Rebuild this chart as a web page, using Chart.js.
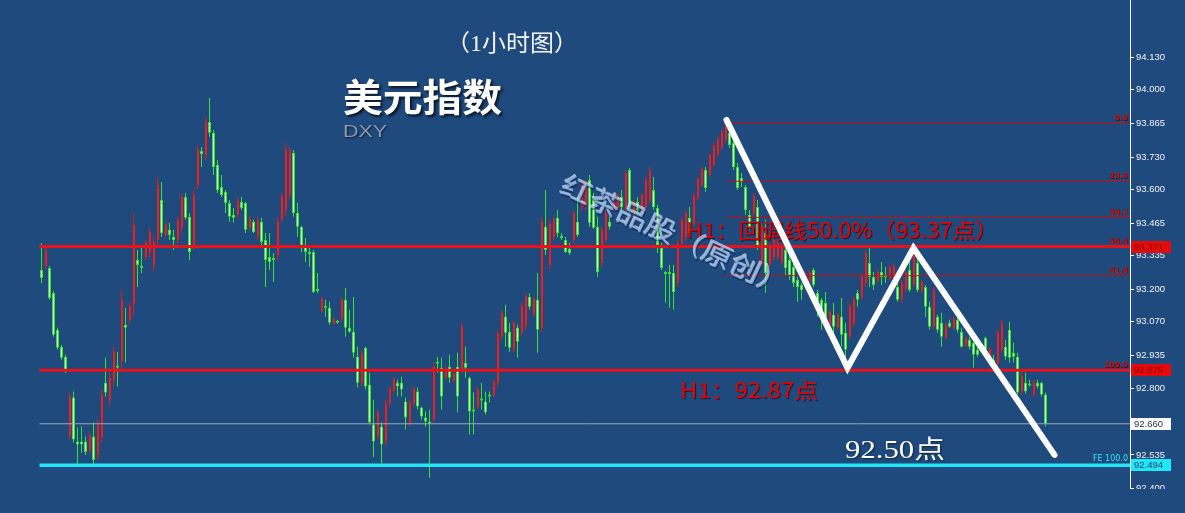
<!DOCTYPE html>
<html><head><meta charset="utf-8">
<script src="https://cdn.jsdelivr.net/npm/chart.js@4/dist/chart.umd.min.js"></script>
<style>html,body{margin:0;padding:0;background:#1f4a7e;overflow:hidden}canvas{display:block}</style>
</head><body><canvas id="c" width="1185" height="513"></canvas>
<script>
// ---- candle data (DXY, 1 hour) ----
const opens = [
93.277,93.293,93.285,93.185,93.037,92.969,92.929,92.613,92.765,92.589,
92.589,92.589,92.555,92.609,92.535,92.605,92.825,92.757,92.837,92.893,
92.909,93.057,93.077,93.137,93.317,93.293,93.329,93.349,93.297,93.397,
93.558,93.417,93.438,93.409,93.397,93.446,93.570,93.490,93.377,93.618,
93.754,93.738,93.871,93.827,93.698,93.610,93.590,93.546,93.498,93.498,
93.550,93.546,93.446,93.470,93.413,93.470,93.397,93.329,93.325,93.337,
93.478,93.518,93.578,93.746,93.506,93.450,93.377,93.345,93.349,93.197,
93.113,93.129,93.125,93.061,93.069,93.081,93.157,93.045,93.029,92.929,
92.825,92.965,92.817,92.657,92.609,92.649,92.589,92.741,92.793,92.825,
92.825,92.749,92.660,92.741,92.789,92.725,92.685,92.669,92.677,92.905,
92.885,92.845,92.889,92.833,92.889,92.881,92.905,92.845,92.717,92.729,
92.761,92.749,92.773,92.773,92.825,93.009,93.089,93.029,92.957,93.045,
93.025,93.053,93.169,93.101,93.157,93.045,93.450,93.297,93.409,93.486,
93.413,93.397,93.361,93.397,93.470,93.530,93.530,93.638,93.558,93.450,
93.305,93.397,93.470,93.526,93.526,93.570,93.530,93.678,93.498,93.550,
93.514,93.530,93.558,93.598,93.526,93.365,93.269,93.269,93.265,93.225,
93.381,93.409,93.486,93.462,93.566,93.618,93.678,93.658,93.698,93.738,
93.766,93.799,93.827,93.786,93.690,93.646,93.610,93.498,93.502,93.530,
93.305,93.425,93.301,93.329,93.329,93.309,93.357,93.317,93.289,93.237,
93.217,93.205,93.233,93.277,93.185,93.157,93.145,93.057,93.097,93.045,
93.089,93.025,93.009,93.061,93.185,93.169,93.225,93.305,93.249,93.233,
93.269,93.253,93.245,93.221,93.209,93.157,93.201,93.277,93.221,93.305,
93.193,93.209,93.129,93.049,93.089,93.065,93.005,93.065,93.045,93.077,
93.029,92.973,92.997,92.985,92.957,92.949,93.005,92.913,92.917,92.901,
92.957,92.969,93.037,92.945,92.929,92.789,92.825,92.817,92.777,92.825,
92.825,92.777];
const highs = [
93.385,93.377,93.293,93.193,93.045,92.977,92.937,92.785,92.789,92.645,
92.649,92.609,92.625,92.665,92.677,92.797,92.925,92.865,92.969,92.949,
93.197,93.125,93.145,93.506,93.357,93.365,93.397,93.450,93.409,93.650,
93.630,93.466,93.466,93.438,93.490,93.586,93.586,93.506,93.598,93.778,
93.770,93.891,93.967,93.839,93.718,93.658,93.598,93.558,93.526,93.566,
93.570,93.550,93.490,93.478,93.490,93.486,93.425,93.425,93.345,93.490,
93.586,93.786,93.770,93.758,93.546,93.454,93.405,93.365,93.357,93.265,
93.169,93.157,93.149,93.085,93.077,93.169,93.205,93.117,93.169,92.969,
92.957,92.969,92.865,92.757,92.717,92.665,92.757,92.809,92.849,92.837,
92.849,92.765,92.757,92.809,92.805,92.729,92.709,92.717,92.905,92.929,
92.925,92.889,92.937,92.865,92.945,93.065,92.969,92.849,92.785,92.809,
92.825,92.789,92.789,92.837,93.037,93.117,93.137,93.065,93.077,93.057,
93.145,93.185,93.185,93.169,93.265,93.490,93.598,93.478,93.490,93.518,
93.425,93.409,93.385,93.518,93.570,93.626,93.638,93.658,93.586,93.490,
93.450,93.518,93.490,93.570,93.586,93.598,93.678,93.686,93.558,93.570,
93.586,93.650,93.690,93.650,93.538,93.385,93.273,93.297,93.297,93.397,
93.490,93.518,93.530,93.586,93.650,93.690,93.690,93.746,93.786,93.811,
93.839,93.867,93.859,93.799,93.706,93.666,93.618,93.518,93.586,93.558,
93.466,93.478,93.385,93.409,93.397,93.385,93.377,93.337,93.329,93.249,
93.225,93.265,93.277,93.285,93.197,93.165,93.189,93.117,93.145,93.105,
93.165,93.065,93.145,93.169,93.197,93.265,93.357,93.365,93.269,93.277,
93.309,93.289,93.297,93.305,93.229,93.237,93.277,93.317,93.345,93.333,
93.237,93.217,93.149,93.209,93.097,93.105,93.065,93.077,93.089,93.089,
93.045,93.009,93.009,92.989,92.969,92.969,93.009,92.969,92.937,93.037,
93.077,92.997,93.069,92.985,92.945,92.865,92.865,92.837,92.837,92.837,
92.829,92.785];
const lows = [
93.225,93.277,93.157,93.009,92.957,92.917,92.865,92.597,92.585,92.494,
92.543,92.535,92.543,92.494,92.515,92.585,92.769,92.728,92.809,92.809,
92.877,92.905,93.065,93.089,93.209,93.265,93.317,93.329,93.269,93.369,
93.409,93.409,93.397,93.357,93.385,93.425,93.478,93.317,93.357,93.598,
93.690,93.718,93.811,93.658,93.586,93.570,93.506,93.470,93.466,93.486,
93.518,93.425,93.438,93.425,93.397,93.369,93.209,93.277,93.229,93.317,
93.466,93.490,93.558,93.490,93.409,93.349,93.309,93.289,93.185,93.185,
93.105,93.089,93.057,93.057,93.061,93.069,93.009,93.025,92.925,92.805,
92.809,92.797,92.657,92.527,92.597,92.503,92.569,92.729,92.785,92.769,
92.769,92.637,92.649,92.729,92.717,92.677,92.649,92.443,92.665,92.865,
92.717,92.837,92.825,92.825,92.705,92.865,92.845,92.617,92.617,92.717,
92.717,92.697,92.745,92.765,92.809,92.997,92.969,92.949,92.945,92.925,
93.009,93.037,93.117,93.089,92.945,93.025,93.337,93.277,93.397,93.409,
93.397,93.345,93.337,93.385,93.409,93.518,93.518,93.450,93.442,93.249,
93.289,93.385,93.438,93.518,93.518,93.518,93.518,93.506,93.490,93.506,
93.506,93.518,93.546,93.518,93.345,93.277,93.145,93.125,93.117,93.209,
93.369,93.397,93.409,93.450,93.558,93.610,93.590,93.650,93.690,93.730,
93.758,93.786,93.766,93.678,93.598,93.610,93.498,93.438,93.490,93.357,
93.289,93.185,93.289,93.317,93.317,93.297,93.257,93.237,93.209,93.149,
93.157,93.197,93.225,93.209,93.089,93.037,93.049,93.049,93.025,93.037,
92.969,92.913,92.997,93.049,93.129,93.157,93.209,93.209,93.197,93.225,
93.217,93.225,93.237,93.209,93.149,93.145,93.189,93.189,93.209,93.189,
93.185,93.089,93.037,93.037,93.025,92.969,92.997,93.045,93.037,93.025,
92.965,92.969,92.957,92.885,92.929,92.945,92.949,92.905,92.869,92.889,
92.945,92.917,92.905,92.905,92.777,92.777,92.781,92.809,92.769,92.801,
92.769,92.649];
const closes = [
93.245,93.357,93.165,93.017,92.965,92.925,92.877,92.769,92.597,92.577,
92.577,92.547,92.613,92.515,92.657,92.777,92.785,92.845,92.949,92.885,
93.157,93.045,93.133,93.458,93.297,93.285,93.385,93.429,93.389,93.618,
93.425,93.458,93.417,93.397,93.478,93.570,93.486,93.349,93.578,93.758,
93.742,93.871,93.827,93.690,93.598,93.578,93.546,93.490,93.486,93.554,
93.526,93.438,93.482,93.429,93.478,93.389,93.317,93.309,93.317,93.470,
93.574,93.758,93.758,93.506,93.450,93.377,93.349,93.341,93.189,93.193,
93.161,93.125,93.065,93.081,93.065,93.157,93.045,93.029,92.945,92.825,
92.941,92.809,92.665,92.589,92.705,92.577,92.741,92.801,92.841,92.809,
92.797,92.685,92.745,92.801,92.729,92.689,92.669,92.660,92.889,92.901,
92.769,92.881,92.845,92.861,92.769,93.049,92.885,92.709,92.709,92.797,
92.753,92.705,92.769,92.829,93.021,93.105,93.025,92.965,93.065,92.989,
93.133,93.173,93.129,93.161,93.037,93.470,93.357,93.462,93.482,93.425,
93.405,93.349,93.345,93.506,93.417,93.614,93.626,93.466,93.446,93.269,
93.438,93.506,93.450,93.562,93.578,93.530,93.666,93.518,93.550,93.518,
93.578,93.638,93.678,93.530,93.377,93.285,93.261,93.261,93.189,93.381,
93.478,93.506,93.425,93.574,93.642,93.682,93.606,93.738,93.778,93.803,
93.831,93.855,93.778,93.690,93.606,93.630,93.518,93.446,93.574,93.369,
93.454,93.265,93.373,93.397,93.385,93.373,93.285,93.257,93.225,93.209,
93.197,93.257,93.269,93.217,93.145,93.089,93.077,93.109,93.049,93.097,
93.017,92.957,93.133,93.157,93.157,93.253,93.345,93.249,93.217,93.269,
93.249,93.249,93.289,93.293,93.157,93.225,93.269,93.197,93.333,93.197,
93.229,93.129,93.049,93.197,93.037,93.009,93.057,93.049,93.081,93.037,
92.969,93.005,92.969,92.937,92.937,92.965,92.957,92.961,92.885,93.025,
93.065,92.929,92.925,92.929,92.785,92.853,92.789,92.813,92.829,92.809,
92.777,92.660];

// ---- axis & annotation values ----
const yTickValues = [94.130,94.000,93.865,93.730,93.600,93.465,93.335,93.200,93.070,92.935,92.800,92.535,92.400];
const keyLevels = [93.371, 92.875];          // thick red H1 levels
const lastPrice = 92.660;
const targetLevel = 92.494;
const fibLevels = [93.867, 93.633, 93.488, 93.254];
const fibTagLevels = [93.867, 93.633, 93.488, 93.371, 93.254, 92.875];
const fibTagTexts = ['0.0','23.6','38.2','50.0','61.8','100.0'];
const fibStartIndex = 171.25;
const levelStartIndex = -0.5;
const zigzagX = [171.25, 201.5, 218, 253.25];
const zigzagY = [93.879, 92.884, 93.365, 92.535];
const priceTags = [93.371, 92.875, 92.660, 92.494];

const X_MIN = -10.375, X_MAX = 272.125;
const BG = '#1f4a7e';
const UP = '#ee1c1c', UP_WICK = '#e01818', DOWN = '#2ee22e', DOWN_FILL = '#e2ffdc';

const idx = opens.map((_, i) => i);
const wickData = idx.map(i => ({x: i, y: [lows[i], highs[i]]}));
const downBodies = idx.filter(i => closes[i] < opens[i]).map(i => ({x: i, y: [closes[i], opens[i]]}));
// 2px-wide red bodies: nudged by 1/8 unit (0.5px) so they sit on whole pixels
const upBodies = idx.filter(i => closes[i] >= opens[i]).map(i => ({x: i + 0.125, y: [opens[i], closes[i]]}));
const hLine = (v, from) => [{x: from, y: v}, {x: X_MAX, y: v}];

function lineDs(data, color, width, order, extra) {
  return Object.assign({type: 'line', data, borderColor: color, borderWidth: width, pointRadius: 0,
    fill: false, tension: 0, order}, extra || {});
}

const datasets = [
  {type: 'bar', data: wickData, barThickness: 1, inflateAmount: 0, grouped: false, minBarLength: 1,
   backgroundColor: ctx => (closes[ctx.dataIndex] >= opens[ctx.dataIndex] ? UP_WICK : DOWN), order: 20},
  {type: 'bar', data: downBodies, barThickness: 3, inflateAmount: 0, grouped: false, minBarLength: 2,
   backgroundColor: DOWN_FILL, borderColor: DOWN, borderWidth: 1, borderSkipped: false, order: 19},
  {type: 'bar', data: upBodies, barThickness: 2, inflateAmount: 0, grouped: false, minBarLength: 1,
   backgroundColor: UP, order: 18},
  lineDs(hLine(lastPrice, levelStartIndex), '#9aa6ba', 1, 17),
  lineDs(hLine(targetLevel, levelStartIndex), '#22e6f5', 3.5, 16),
  ...fibLevels.map(v => lineDs(hLine(v, fibStartIndex), '#c41010', 1, 15)),
  lineDs(hLine(keyLevels[0], levelStartIndex), '#e8121a', 3, 14),
  lineDs(hLine(keyLevels[1], levelStartIndex), '#e8121a', 3, 13, {textsAfter: true}),
  lineDs(zigzagX.map((x, k) => ({x, y: zigzagY[k]})), '#ffffff', 6, 1, {borderJoinStyle: 'miter', borderCapStyle: 'round'})
];

function drawText(ctx, s, x, yc, o) {
  ctx.save();
  ctx.font = o.font;
  ctx.textBaseline = 'middle';
  ctx.textAlign = 'left';
  const w = ctx.measureText(s).width;
  const sc = o.width ? o.width / w : 1;
  ctx.translate(x, yc);
  if (o.rot) ctx.rotate(o.rot);
  ctx.scale(sc, 1);
  if (o.layers) {
    o.layers.forEach(L => { ctx.fillStyle = L.c; ctx.fillText(s, L.dx, L.dy); });
  }
  if (o.shadow) { ctx.shadowColor = o.shadow; ctx.shadowBlur = o.blur || 0; ctx.shadowOffsetX = o.sx || 0; ctx.shadowOffsetY = o.sy || 0; }
  ctx.fillStyle = o.color;
  ctx.fillText(s, 0, 0);
  ctx.restore();
}

function drawTexts(chart) {
  const ctx = chart.ctx;
  drawText(ctx, '（1小时图）', 446, 45, {font: "23px 'Liberation Serif','Noto Sans CJK SC'", color: '#f4f4f4', width: 132});
  drawText(ctx, '美元指数', 343, 97, {font: "bold 38px 'Noto Sans CJK SC'", color: '#ffffff', width: 159,
    shadow: 'rgba(0,0,0,0.75)', blur: 3, sx: 2, sy: 2});
  drawText(ctx, 'DXY', 343, 132, {font: "17px 'Liberation Sans'", color: '#8d98aa', width: 44,
    shadow: 'rgba(0,0,0,0.6)', blur: 2, sx: 1, sy: 1});
  drawText(ctx, 'H1：回调线50.0%（93.37点）', 686, 230, {font: "21px 'Noto Sans CJK SC'", color: '#e80000', width: 312,
    shadow: 'rgba(40,0,0,0.7)', blur: 1, sx: 1, sy: 1});
  drawText(ctx, 'H1：92.87点', 680, 390, {font: "21px 'Noto Sans CJK SC'", color: '#e80000', width: 138,
    shadow: 'rgba(40,0,0,0.7)', blur: 1, sx: 1, sy: 1});
  drawText(ctx, '92.50点', 845, 451, {font: "25px 'Liberation Serif','Noto Sans CJK SC'", color: '#ffffff', width: 100,
    shadow: 'rgba(0,0,0,0.5)', blur: 2, sx: 1, sy: 1});
  drawText(ctx, '红茶品股（原创）', 563, 183, {font: "27px 'Noto Sans CJK SC'", color: 'rgba(150,186,232,0.8)', width: 248,
    rot: 25 * Math.PI / 180,
    layers: [{c: 'rgba(255,255,255,0.6)', dx: -1, dy: -1}, {c: 'rgba(10,30,70,0.45)', dx: 1.5, dy: 1.5}]});
}

const deco = {
  id: 'deco',
  beforeDraw(chart) {
    const c = chart.ctx; c.save(); c.fillStyle = BG; c.fillRect(0, 0, chart.width, chart.height); c.restore();
  },
  afterDatasetDraw(chart, args) {
    if (chart.data.datasets[args.index].textsAfter) drawTexts(chart);
  },
  afterDraw(chart) {
    const c = chart.ctx, ys = chart.scales.y;
    c.save();
    c.fillStyle = BG; c.fillRect(0, 489, chart.width, chart.height - 489);
    // fib tags
    c.textAlign = 'right'; c.textBaseline = 'bottom';
    c.font = "bold 7.5px 'DejaVu Sans'";
    fibTagLevels.forEach((v, k) => {
      const y = ys.getPixelForValue(v);
      c.fillStyle = 'rgba(60,0,0,0.8)'; c.fillText(fibTagTexts[k], 1128.5, y - 0.5);
      c.fillStyle = '#d01010'; c.fillText(fibTagTexts[k], 1128, y - 1);
    });
    c.font = "8px 'DejaVu Sans'"; c.fillStyle = '#2ee6f5';
    c.fillText('FE 100.0', 1128, ys.getPixelForValue(targetLevel) - 2);
    // price tags on the axis
    const styles = [
      {bg: '#e50a0a', fg: '#8a0606'}, {bg: '#e50a0a', fg: '#8a0606'},
      {bg: '#ffffff', fg: '#1a2a48'}, {bg: '#1ee8f6', fg: '#12406e'}];
    c.textAlign = 'left'; c.textBaseline = 'middle'; c.font = "9.5px 'Liberation Sans'";
    priceTags.forEach((v, k) => {
      const y = Math.round(ys.getPixelForValue(v));
      c.fillStyle = styles[k].bg; c.fillRect(1131, y - 6, 40, 12);
      c.fillStyle = styles[k].fg; c.fillText(v.toFixed(3), 1134, y + 0.5);
    });
    c.restore();
  }
};

new Chart(document.getElementById('c'), {
  type: 'bar',
  data: {datasets},
  plugins: [deco],
  options: {
    responsive: false, animation: false, events: [],
    layout: {padding: 0},
    plugins: {legend: {display: false}, tooltip: {enabled: false}},
    scales: {
      x: {type: 'linear', min: X_MIN, max: X_MAX, display: false, offset: false},
      y: {
        type: 'linear', position: 'right', min: 92.302, max: 94.360, beginAtZero: false,
        afterBuildTicks: s => { s.ticks = yTickValues.map(v => ({value: v})); },
        afterFit: s => { s.width = 55; s.paddingTop = 0; s.paddingBottom = 0; },
        ticks: {autoSkip: false, padding: 2, color: '#f2f2f2', font: {family: 'Liberation Sans', size: 9.5},
          callback: v => Number(v).toFixed(3)},
        grid: {drawOnChartArea: false, drawTicks: true, tickLength: 4, color: '#ffffff'},
        border: {display: true, color: '#ffffff', width: 1}
      }
    }
  }
});
</script>
</body></html>
